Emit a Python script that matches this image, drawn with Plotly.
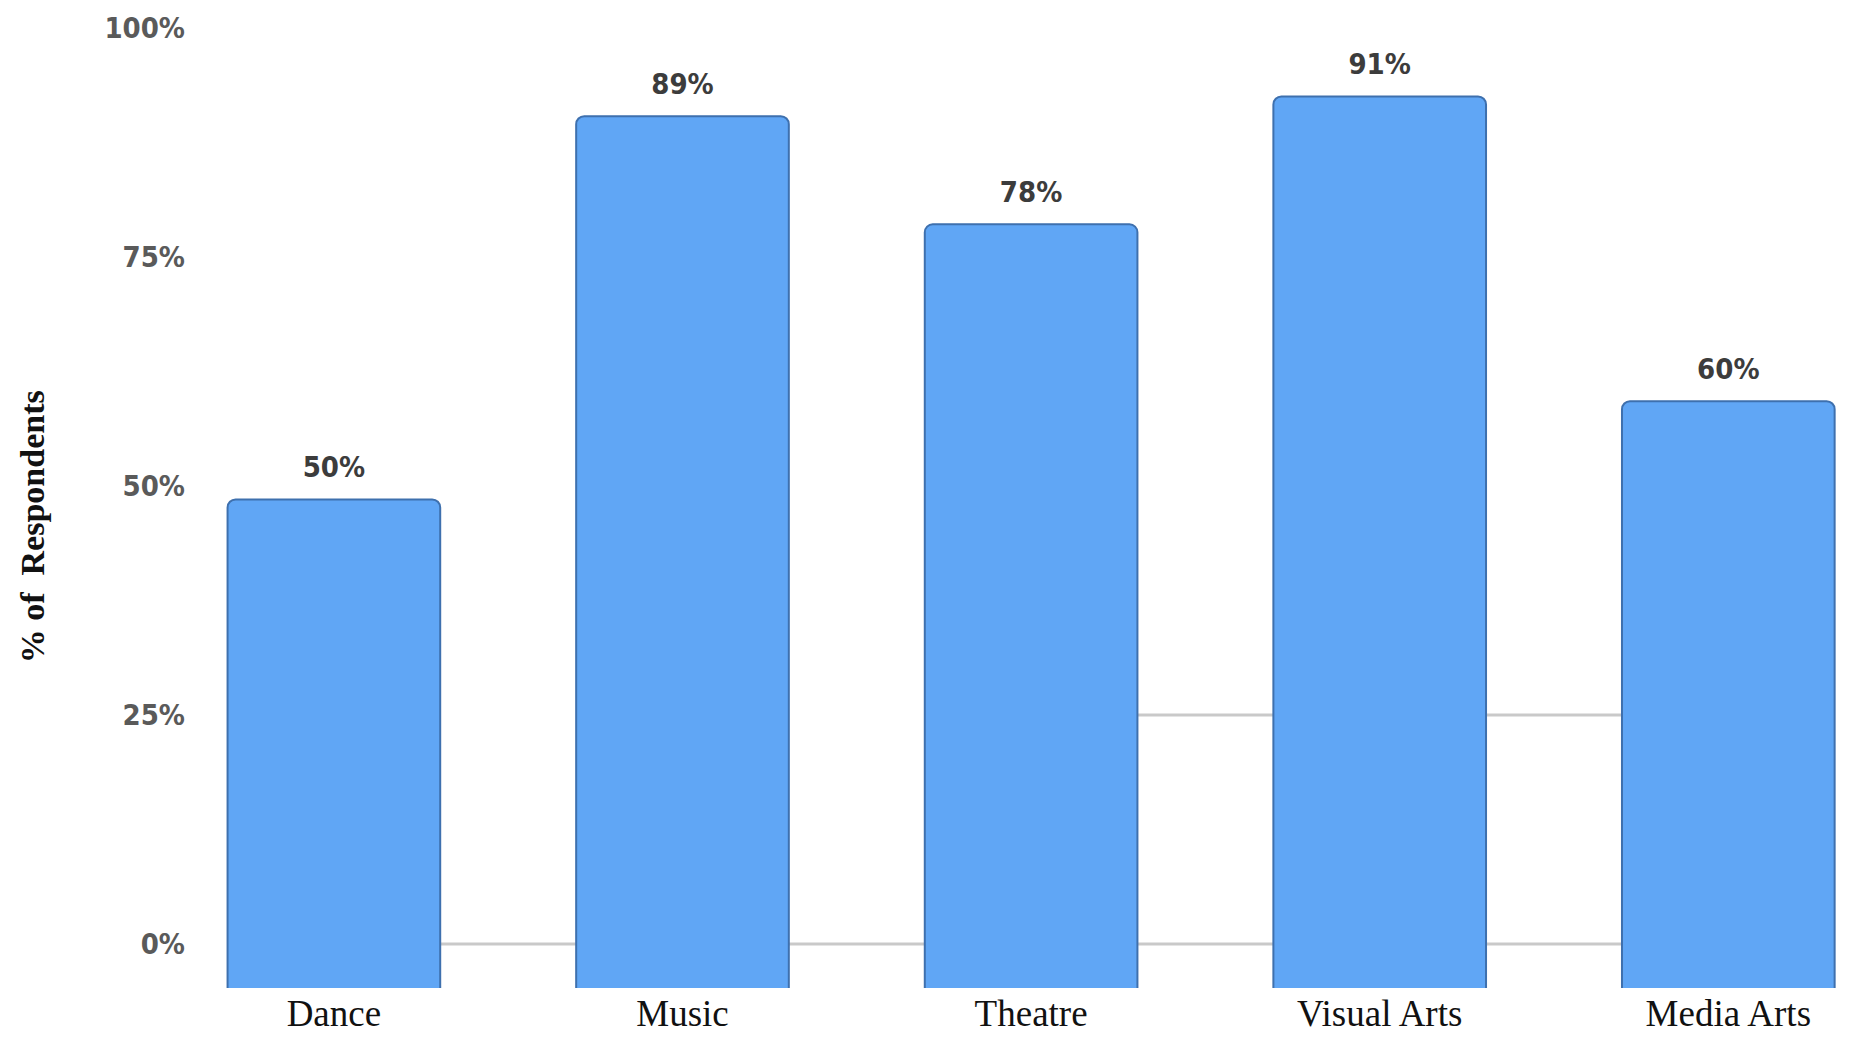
import plotly.graph_objects as go

categories = ["Dance", "Music", "Theatre", "Visual Arts", "Media Arts"]
values = [50, 89, 78, 91, 60]
value_labels = ["50%", "89%", "78%", "91%", "60%"]
tick_values = [0, 25, 50, 75, 100]
tick_labels = ["0%", "25%", "50%", "75%", "100%"]

fig = go.Figure()

fig.add_trace(go.Bar(
    x=categories, y=values,
    marker=dict(color="#60a6f5", line=dict(color="#3e70ae", width=2), cornerradius=8),
    width=0.61,
    hoverinfo="x+y",
    showlegend=False,
))

fig.add_trace(go.Scatter(
    x=categories, y=values,
    mode="markers+text",
    text=value_labels,
    textposition="top center",
    marker=dict(size=22, opacity=0),
    textfont=dict(family="DejaVu Sans Condensed, DejaVu Sans, Liberation Sans", size=29, color="#3c3c3c", weight="bold"),
    showlegend=False,
    hoverinfo="skip",
    cliponaxis=False,
))

# Invisible trace on the secondary axis that carries the percentage tick scale
fig.add_trace(go.Scatter(
    x=categories, y=[None] * len(categories), yaxis="y2",
    mode="markers", showlegend=False, hoverinfo="skip",
))

grid_color = "#c9c9c9"
fig.update_layout(
    width=1850, height=1034,
    margin=dict(l=184, r=0, t=12, b=54),
    plot_bgcolor="white", paper_bgcolor="white",
    xaxis=dict(
        range=[-0.407, 4.372],
        showgrid=False, zeroline=False, showline=False,
        ticks="", tickfont=dict(family="Liberation Serif, Times New Roman, serif", size=37, color="#111111"),
    ),
    yaxis=dict(
        range=[0.3, 98.78],
        showgrid=False, zeroline=False, showline=False, showticklabels=False,
    ),
    yaxis2=dict(
        overlaying="y", side="left", anchor="x",
        range=[-4.80, 100.87],
        tickvals=tick_values, ticktext=tick_labels,
        showgrid=False, zeroline=False, showline=False, ticks="",
        tickfont=dict(family="DejaVu Sans Condensed, DejaVu Sans, Liberation Sans", size=29, color="#5a5a5a", weight="bold"),
        ticklabelstandoff=6,
    ),
    shapes=[
        dict(type="line", xref="x", yref="y2", x0=0, x1=4, y0=0, y1=0,
             line=dict(color=grid_color, width=3), layer="below"),
        dict(type="line", xref="x", yref="y2", x0=2, x1=4, y0=25, y1=25,
             line=dict(color=grid_color, width=3), layer="below"),
    ],
    annotations=[
        dict(text="<b>% of  Respondents</b>", xref="paper", yref="paper",
             x=-0.096, xanchor="center", y=0.476, yanchor="middle",
             textangle=-90, showarrow=False,
             font=dict(family="Liberation Serif, Times New Roman, serif", size=34, color="#111111")),
    ],
)

fig.write_html("out.html")
